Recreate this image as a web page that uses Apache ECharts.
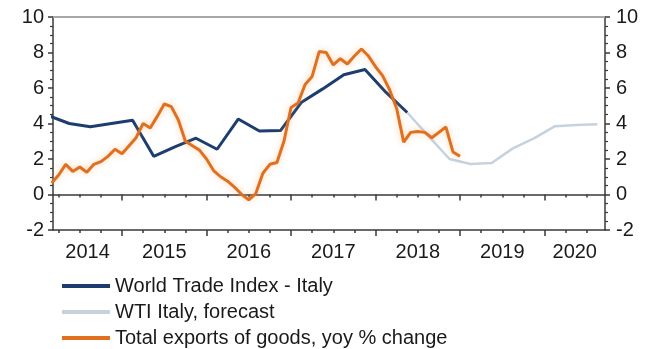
<!DOCTYPE html>
<html>
<head>
<meta charset="utf-8">
<script src="https://cdn.jsdelivr.net/npm/echarts@6/dist/echarts.min.js"></script>
<style>
  html, body { margin: 0; padding: 0; background: #fff; }
  #chart { width: 653px; height: 349px; }
</style>
</head>
<body>
<div id="chart"></div>
<script>
// World Trade Index for Italy (quarterly, plotted mid-quarter, decimal years)
const wtiDates  = [2014.125, 2014.375, 2014.625, 2014.875, 2015.125, 2015.375, 2015.625, 2015.875,
                   2016.125, 2016.375, 2016.625, 2016.875, 2017.125, 2017.375, 2017.625, 2017.875,
                   2018.125, 2018.375];
const wtiValues = [4.45, 4.0, 3.82, 4.0, 4.18, 2.15, 2.68, 3.17,
                   2.55, 4.25, 3.58, 3.6, 5.2, 5.95, 6.75, 7.04,
                   5.75, 4.62];

// WTI forecast path
const forecastDates  = [2018.375, 2018.625, 2018.875, 2019.125, 2019.375, 2019.625, 2019.875,
                        2020.125, 2020.375, 2020.625];
const forecastValues = [4.62, 3.3, 2.0, 1.72, 1.78, 2.6, 3.16, 3.85, 3.92, 3.96];

// Total exports of goods, yoy % change: monthly from Feb 2014 to Dec 2018 (month ends)
const exportsFirstMonth = { year: 2014, month: 2 };
const exportsValues = [0.65, 1.1, 1.7, 1.3, 1.55, 1.25, 1.7, 1.85, 2.15, 2.55, 2.3,
                       2.75, 3.2, 4.0, 3.75, 4.4, 5.1, 4.95, 4.2, 3.0, 2.75, 2.5, 2.0,
                       1.35, 1.0, 0.75, 0.4, 0.0, -0.3, 0.05, 1.2, 1.7, 1.8, 3.0, 4.9,
                       5.15, 6.2, 6.65, 8.05, 8.0, 7.3, 7.65, 7.35, 7.8, 8.2, 7.8, 7.2,
                       6.7, 5.9, 4.85, 2.95, 3.5, 3.55, 3.5, 3.2, 3.5, 3.8, 2.4, 2.15];

const yearLabels = [2014, 2015, 2016, 2017, 2018, 2019, 2020];
const seriesNames = ['World Trade Index - Italy', 'WTI Italy, forecast', 'Total exports of goods, yoy % change'];

// visible time window (decimal years)
const xMin = 2014.183, xMax = 2020.716;

const exportsDates = exportsValues.map((_, i) =>
  exportsFirstMonth.year + (exportsFirstMonth.month + i) / 12);

const pairs = (xs, ys) => xs.map((x, i) => [x, ys[i]]);

// tick positions: year boundaries and quarter marks inside the window
const yearTicks = yearLabels.filter(y => y > xMin && y < xMax);
const quarterTicks = [];
for (let y = 2014; y <= 2020; y++) {
  for (const q of [0.25, 0.5, 0.75]) {
    const v = y + q;
    if (v > xMin && v < xMax) quarterTicks.push(v);
  }
}
// year label sits in the middle of the visible part of each year
const labelPositions = yearLabels.map(y => (Math.max(y, xMin) + Math.min(y + 1, xMax)) / 2);

const FONT = '"Liberation Sans", Arial, sans-serif';
const AXIS_COLOR = '#3a3a3a';
const TEXT_COLOR = '#1a1a1a';

function xAxisBase(extra) {
  return Object.assign({
    type: 'value', min: xMin, max: xMax, gridIndex: 0,
    position: 'bottom',
    splitLine: { show: false },
    axisLabel: { show: false },
    axisTick: { show: false },
    axisLine: { show: false, onZero: false }
  }, extra);
}

const xAxes = [
  // bottom axis: line, year ticks, labels
  xAxisBase({
    axisLine: { show: true, onZero: false, lineStyle: { color: AXIS_COLOR, width: 1.5 } },
    axisTick: { show: true, customValues: yearTicks, length: 6, lineStyle: { color: AXIS_COLOR, width: 1.5 } },
    axisLabel: {
      show: true, customValues: labelPositions, margin: 12,
      formatter: v => String(Math.floor(v + 1e-6)),
      color: TEXT_COLOR, fontSize: 20, fontFamily: FONT
    }
  }),
  // bottom axis: quarter ticks
  xAxisBase({
    axisTick: { show: true, customValues: quarterTicks, length: 3, lineStyle: { color: AXIS_COLOR, width: 1.5 } }
  }),
  // zero line with year ticks
  xAxisBase({
    axisLine: { show: true, onZero: true, onZeroAxisIndex: 0, lineStyle: { color: AXIS_COLOR, width: 1.5 } },
    axisTick: { show: true, customValues: yearTicks, length: 6, lineStyle: { color: AXIS_COLOR, width: 1.5 } }
  }),
  // zero line quarter ticks
  xAxisBase({
    axisLine: { show: false, onZero: true, onZeroAxisIndex: 0 },
    axisTick: { show: true, customValues: quarterTicks, length: 3, lineStyle: { color: AXIS_COLOR, width: 1.5 } }
  }),
  // top frame line
  xAxisBase({
    position: 'top',
    axisLine: { show: true, onZero: false, lineStyle: { color: '#a8a8a8', width: 2 } }
  })
];

function yAxisBase(position, margin) {
  return {
    type: 'value', min: -2, max: 10, interval: 2, position: position,
    splitLine: { show: false },
    axisLine: { show: true, onZero: false, lineStyle: { color: AXIS_COLOR, width: 1.5 } },
    axisTick: { show: true, length: 5, lineStyle: { color: AXIS_COLOR, width: 1.5 } },
    minorTick: { show: true, splitNumber: 4, length: 3, lineStyle: { color: AXIS_COLOR, width: 1.2 } },
    axisLabel: { margin: margin, color: TEXT_COLOR, fontSize: 20, fontFamily: FONT }
  };
}

const chart = echarts.init(document.getElementById('chart'), null, { renderer: 'canvas' });
chart.setOption({
  animation: false,
  backgroundColor: '#ffffff',
  grid: { left: 53, right: 48, top: 17, bottom: 119, containLabel: false },
  xAxis: xAxes,
  yAxis: [yAxisBase('left', 9), yAxisBase('right', 11)],
  legend: {
    orient: 'vertical', left: 62, top: 276, padding: 0,
    itemWidth: 48, itemHeight: 4, itemGap: 6, icon: 'rect',
    textStyle: { color: TEXT_COLOR, fontSize: 20, fontFamily: FONT, lineHeight: 20 },
    data: seriesNames
  },
  series: [
    {
      name: seriesNames[0], type: 'line', xAxisIndex: 0, yAxisIndex: 0,
      data: pairs(wtiDates, wtiValues), showSymbol: false, symbol: 'none',
      lineStyle: { color: '#1d3d70', width: 3 }, itemStyle: { color: '#1d3d70' }, z: 3
    },
    {
      name: seriesNames[1], type: 'line', xAxisIndex: 0, yAxisIndex: 0,
      data: pairs(forecastDates, forecastValues), showSymbol: false, symbol: 'none',
      lineStyle: { color: '#c6d2de', width: 2.5 }, itemStyle: { color: '#c6d2de' }, z: 2
    },
    {
      name: seriesNames[2], type: 'line', xAxisIndex: 0, yAxisIndex: 0,
      data: pairs(exportsDates, exportsValues), showSymbol: false, symbol: 'none',
      lineStyle: { color: '#e0701f', width: 3, shadowBlur: 6, shadowColor: 'rgba(245,150,70,0.45)' },
      itemStyle: { color: '#e0701f' }, z: 4
    }
  ]
});
</script>
</body>
</html>
